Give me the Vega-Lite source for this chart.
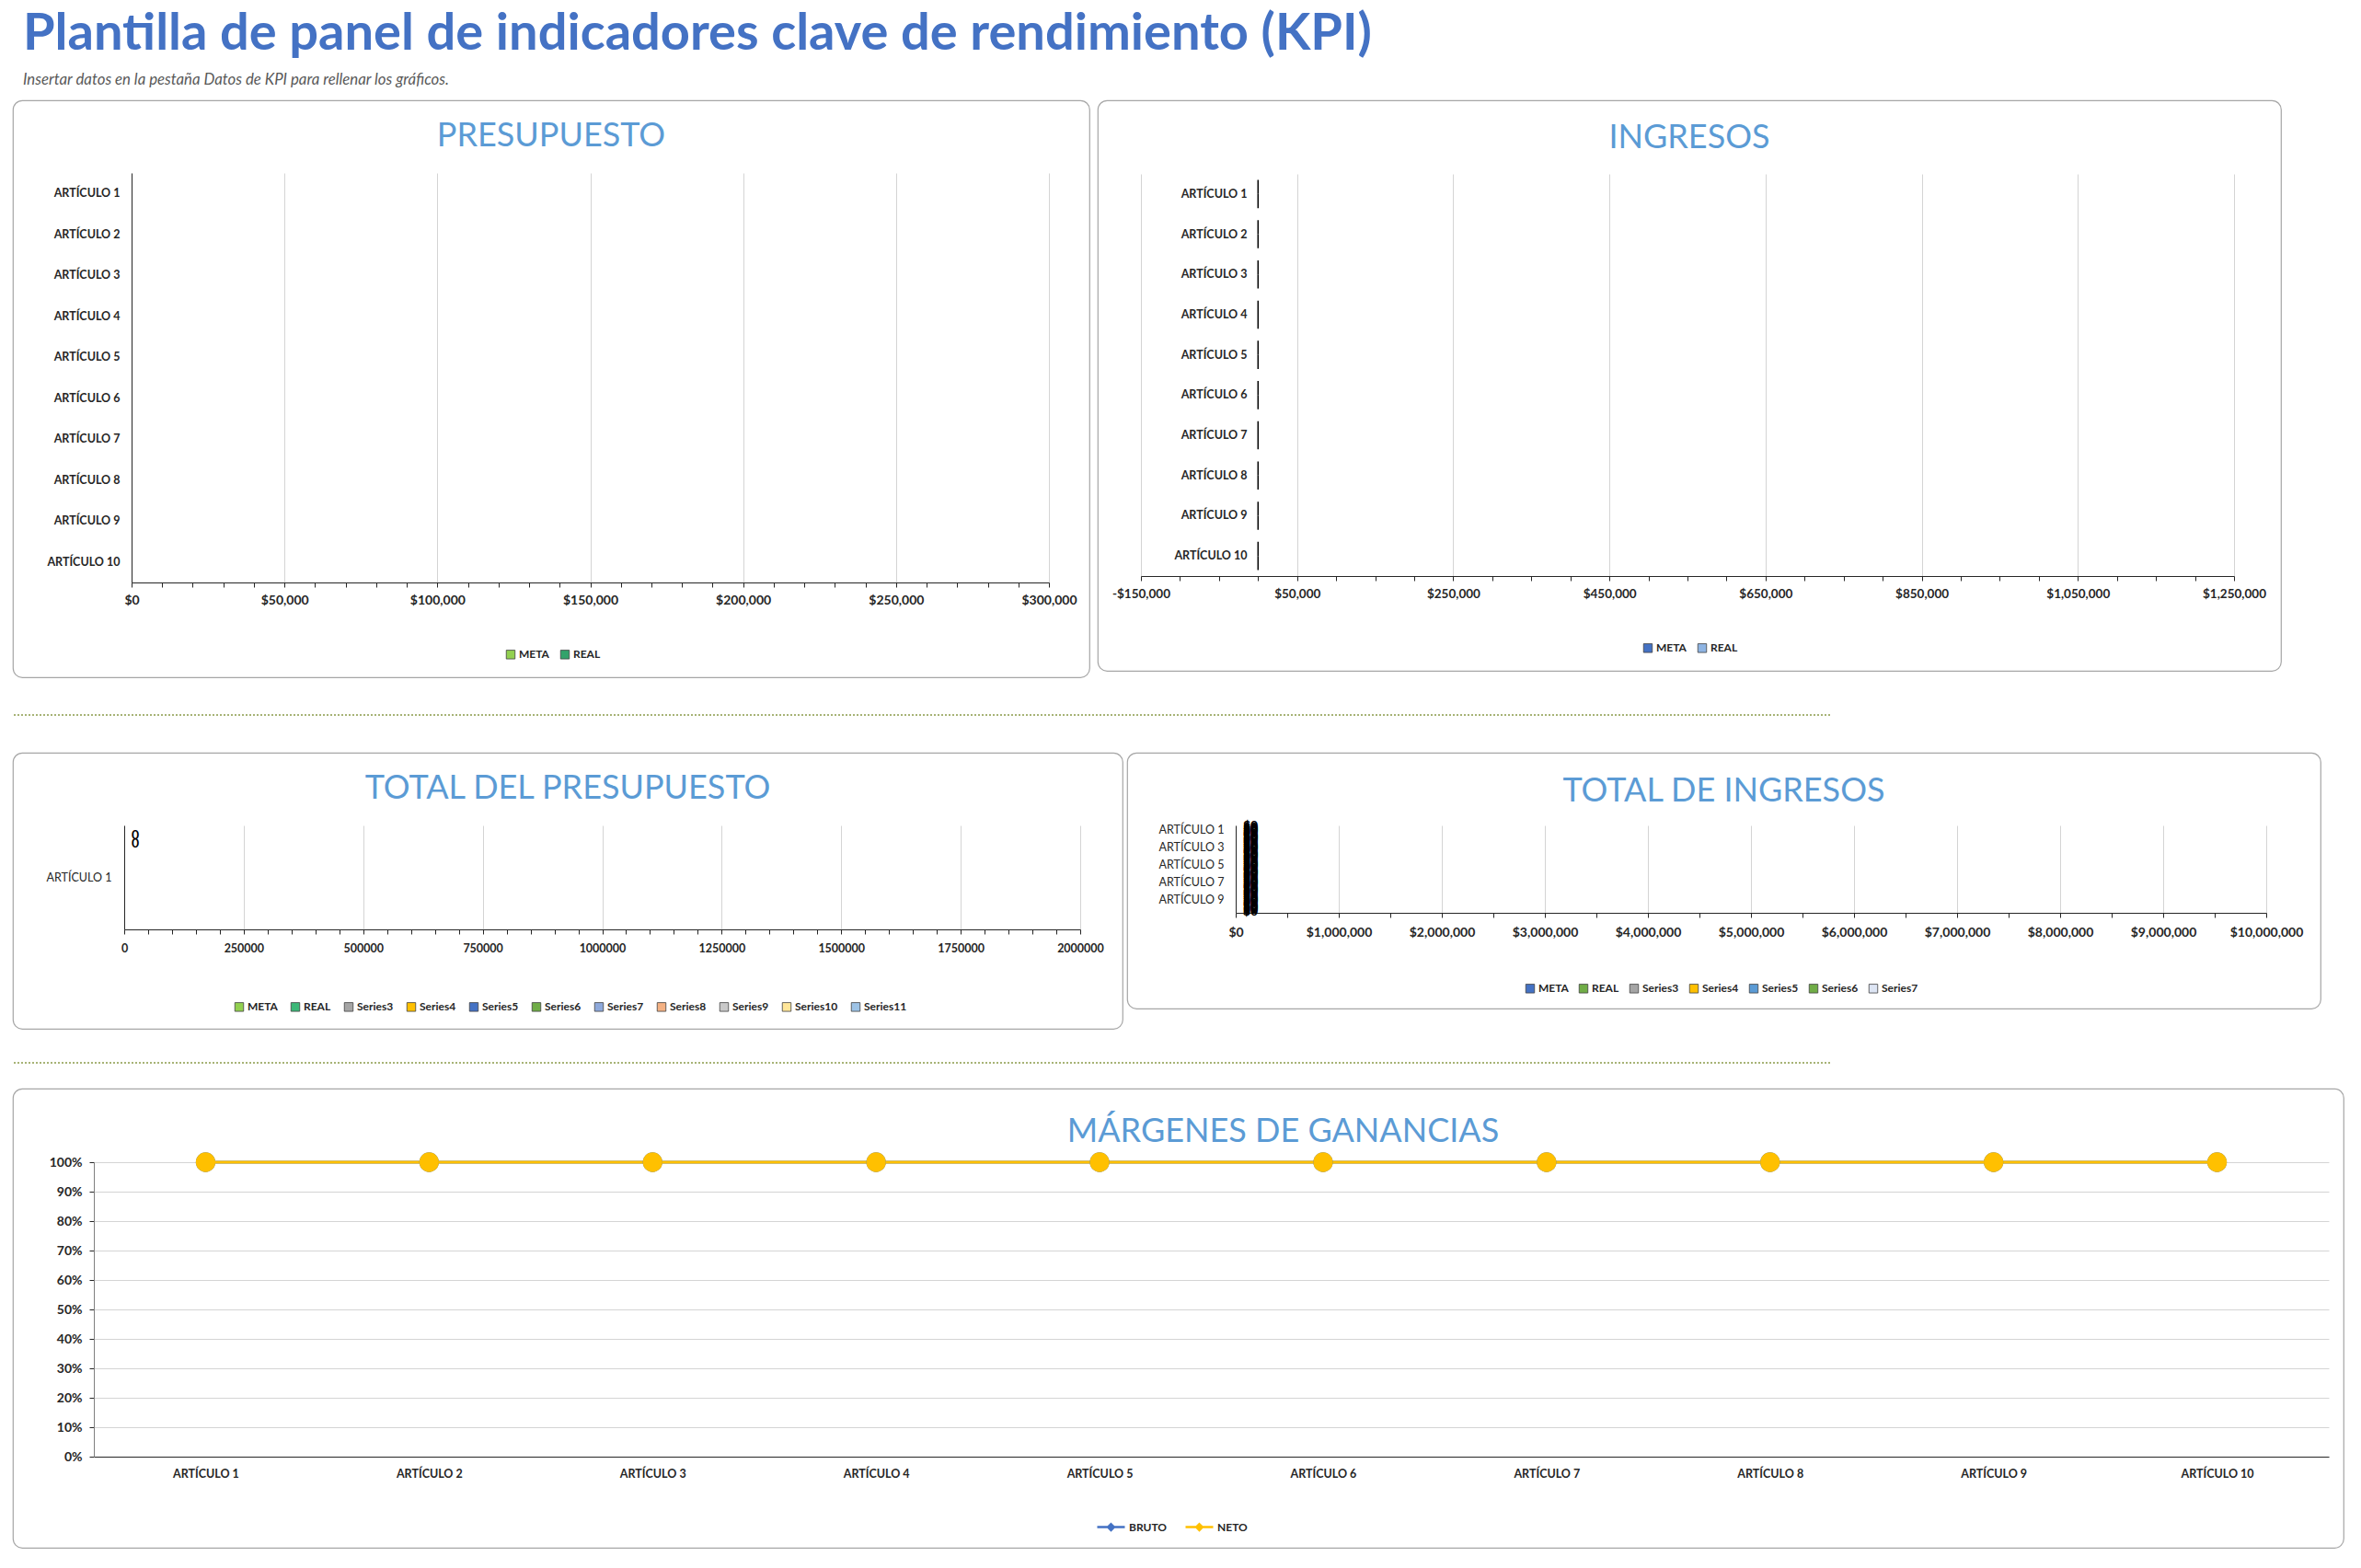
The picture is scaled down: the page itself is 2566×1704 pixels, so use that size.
{
  "$schema": "https://vega.github.io/schema/vega-lite/v6.json",
  "padding": {"left": 13, "top": 0, "right": 0, "bottom": 0},
  "autosize": {"type": "pad"},
  "background": "#ffffff",
  "spacing": 8,
  "resolve": {"scale": {"color": "independent", "yOffset": "independent"}},
  "config": {
    "view": {"stroke": null},
    "font": "Lato",
    "axis": {"labelFont": "Lato", "labelFontWeight": "bold", "labelFontSize": 12.5, "labelColor": "#262626", "domainColor": "#262626", "tickColor": "#262626", "gridColor": "#d4d4d4", "labelFlush": false, "labelOverlap": false},
    "legend": {"labelFont": "Lato", "labelFontWeight": "bold", "labelFontSize": 12, "labelColor": "#262626", "orient": "none", "direction": "horizontal", "symbolType": "square", "symbolSize": 90, "symbolStrokeColor": "#404040", "symbolStrokeWidth": 0.8, "columnPadding": 10, "labelOffset": 3},
    "title": {"font": "Lato", "fontSize": 36, "fontWeight": "normal", "color": "#5B9BD5", "anchor": "middle", "frame": "group", "baseline": "middle"}
  },
  "vconcat": [
    {
      "width": 2533,
      "height": 100,
      "title": {"text": "Plantilla de panel de indicadores clave de rendimiento (KPI)", "subtitle": "Insertar datos en la pestaña Datos de KPI para rellenar los gráficos.", "orient": "bottom", "anchor": "start", "frame": "group", "baseline": "top", "offset": -90, "dx": 11, "font": "Lato", "fontSize": 56, "fontWeight": "bold", "color": "#4472C4", "subtitleFont": "Lato", "subtitleFontSize": 16.8, "subtitleFontStyle": "italic", "subtitleColor": "#595959", "subtitlePadding": 13},
      "data": {"values": [{"v": 0}]},
      "mark": {"type": "rule", "opacity": 0},
      "encoding": {"y": {"field": "v", "type": "quantitative", "axis": null}}
    },
    {
      "spacing": 35,
      "resolve": {"scale": {"color": "independent", "yOffset": "independent"}},
      "vconcat": [
        {
          "spacing": 39,
          "resolve": {"scale": {"color": "independent", "yOffset": "independent"}},
          "vconcat": [
            {
              "spacing": 7,
              "resolve": {"scale": {"color": "independent", "yOffset": "independent"}},
              "hconcat": [
                {
                  "width": 1170,
                  "height": 627,
                  "view": {"stroke": "#a6a6a6", "strokeWidth": 1.2, "cornerRadius": 10, "fill": "#ffffff"},
                  "title": {"text": "PRESUPUESTO", "offset": -58},
                  "data": {"values": [
                    {"articulo": "ARTÍCULO 1", "serie": "META", "valor": 0}, {"articulo": "ARTÍCULO 1", "serie": "REAL", "valor": 0},
                    {"articulo": "ARTÍCULO 2", "serie": "META", "valor": 0}, {"articulo": "ARTÍCULO 2", "serie": "REAL", "valor": 0},
                    {"articulo": "ARTÍCULO 3", "serie": "META", "valor": 0}, {"articulo": "ARTÍCULO 3", "serie": "REAL", "valor": 0},
                    {"articulo": "ARTÍCULO 4", "serie": "META", "valor": 0}, {"articulo": "ARTÍCULO 4", "serie": "REAL", "valor": 0},
                    {"articulo": "ARTÍCULO 5", "serie": "META", "valor": 0}, {"articulo": "ARTÍCULO 5", "serie": "REAL", "valor": 0},
                    {"articulo": "ARTÍCULO 6", "serie": "META", "valor": 0}, {"articulo": "ARTÍCULO 6", "serie": "REAL", "valor": 0},
                    {"articulo": "ARTÍCULO 7", "serie": "META", "valor": 0}, {"articulo": "ARTÍCULO 7", "serie": "REAL", "valor": 0},
                    {"articulo": "ARTÍCULO 8", "serie": "META", "valor": 0}, {"articulo": "ARTÍCULO 8", "serie": "REAL", "valor": 0},
                    {"articulo": "ARTÍCULO 9", "serie": "META", "valor": 0}, {"articulo": "ARTÍCULO 9", "serie": "REAL", "valor": 0},
                    {"articulo": "ARTÍCULO 10", "serie": "META", "valor": 0}, {"articulo": "ARTÍCULO 10", "serie": "REAL", "valor": 0}
                  ]},
                  "resolve": {"axis": {"x": "independent"}},
                  "encoding": {
                    "y": {"field": "articulo", "type": "nominal", "sort": null, "title": null,
                      "scale": {"range": [79, 524], "paddingInner": 0.3, "paddingOuter": 0.15},
                      "axis": {"offset": -129, "ticks": false, "labelPadding": 13, "grid": false}},
                    "yOffset": {"field": "serie", "sort": ["META", "REAL"]}
                  },
                  "layer": [
                    {
                      "mark": {"type": "bar"},
                      "encoding": {
                        "x": {"field": "valor", "type": "quantitative", "title": null,
                          "scale": {"domain": [0, 300000], "range": [129, 1126], "nice": false},
                          "axis": {"orient": "bottom", "offset": -103, "values": [0,10000,20000,30000,40000,50000,60000,70000,80000,90000,100000,110000,120000,130000,140000,150000,160000,170000,180000,190000,200000,210000,220000,230000,240000,250000,260000,270000,280000,290000,300000],
                            "labelExpr": "datum.value % 50000 === 0 ? '$' + format(datum.value, ',') : ''",
                            "grid": false, "tickSize": 5, "labelPadding": 7, "labelFontSize": 14}},
                        "color": {"field": "serie", "type": "nominal", "scale": {"domain": ["META", "REAL"], "range": ["#92D050", "#33A36B"]},
                          "legend": {"title": null, "legendX": 535, "legendY": 596}}
                      }
                    },
                    {
                      "mark": {"type": "bar", "opacity": 0},
                      "encoding": {
                        "x": {"field": "valor", "type": "quantitative", "title": null,
                          "axis": {"orient": "top", "grid": true, "labels": false, "ticks": false, "domain": false, "values": [0,50000,100000,150000,200000,250000,300000]}}
                      }
                    }
                  ]
                },
                {
                  "width": 1286,
                  "height": 620,
                  "view": {"stroke": "#a6a6a6", "strokeWidth": 1.2, "cornerRadius": 10, "fill": "#ffffff"},
                  "title": {"text": "INGRESOS", "offset": -60},
                  "data": {"values": [
                    {"articulo": "ARTÍCULO 1", "serie": "META", "valor": 0}, {"articulo": "ARTÍCULO 1", "serie": "REAL", "valor": 0},
                    {"articulo": "ARTÍCULO 2", "serie": "META", "valor": 0}, {"articulo": "ARTÍCULO 2", "serie": "REAL", "valor": 0},
                    {"articulo": "ARTÍCULO 3", "serie": "META", "valor": 0}, {"articulo": "ARTÍCULO 3", "serie": "REAL", "valor": 0},
                    {"articulo": "ARTÍCULO 4", "serie": "META", "valor": 0}, {"articulo": "ARTÍCULO 4", "serie": "REAL", "valor": 0},
                    {"articulo": "ARTÍCULO 5", "serie": "META", "valor": 0}, {"articulo": "ARTÍCULO 5", "serie": "REAL", "valor": 0},
                    {"articulo": "ARTÍCULO 6", "serie": "META", "valor": 0}, {"articulo": "ARTÍCULO 6", "serie": "REAL", "valor": 0},
                    {"articulo": "ARTÍCULO 7", "serie": "META", "valor": 0}, {"articulo": "ARTÍCULO 7", "serie": "REAL", "valor": 0},
                    {"articulo": "ARTÍCULO 8", "serie": "META", "valor": 0}, {"articulo": "ARTÍCULO 8", "serie": "REAL", "valor": 0},
                    {"articulo": "ARTÍCULO 9", "serie": "META", "valor": 0}, {"articulo": "ARTÍCULO 9", "serie": "REAL", "valor": 0},
                    {"articulo": "ARTÍCULO 10", "serie": "META", "valor": 0}, {"articulo": "ARTÍCULO 10", "serie": "REAL", "valor": 0}
                  ]},
                  "resolve": {"axis": {"x": "independent"}},
                  "encoding": {
                    "y": {"field": "articulo", "type": "nominal", "sort": null, "title": null,
                      "scale": {"range": [80, 517], "paddingInner": 0.3, "paddingOuter": 0.15},
                      "axis": {"offset": -174, "ticks": false, "domain": false, "labelPadding": 12, "grid": false}},
                    "yOffset": {"field": "serie", "sort": ["META", "REAL"]}
                  },
                  "layer": [
                    {
                      "mark": {"type": "bar", "stroke": "#000000", "strokeWidth": 1.5},
                      "encoding": {
                        "x": {"field": "valor", "type": "quantitative", "title": null,
                          "scale": {"domain": [-150000, 1250000], "range": [47, 1235], "nice": false, "zero": false},
                          "axis": {"orient": "bottom", "offset": -103, "values": [-150000,-100000,-50000,0,50000,100000,150000,200000,250000,300000,350000,400000,450000,500000,550000,600000,650000,700000,750000,800000,850000,900000,950000,1000000,1050000,1100000,1150000,1200000,1250000],
                            "labelExpr": "(datum.value + 150000) % 200000 === 0 ? (datum.value < 0 ? '-$' : '$') + format(abs(datum.value), ',') : ''",
                            "grid": false, "tickSize": 5, "labelPadding": 7, "labelFontSize": 13.5}},
                        "color": {"field": "serie", "type": "nominal", "scale": {"domain": ["META", "REAL"], "range": ["#4472C4", "#8EB4E3"]},
                          "legend": {"title": null, "legendX": 592, "legendY": 589}}
                      }
                    },
                    {
                      "mark": {"type": "bar", "opacity": 0},
                      "encoding": {
                        "x": {"field": "valor", "type": "quantitative", "title": null,
                          "axis": {"orient": "top", "grid": true, "labels": false, "ticks": false, "domain": false, "values": [-150000,50000,250000,450000,650000,850000,1050000,1250000]}}
                      }
                    }
                  ]
                }
              ]
            },
            {
              "width": 1975,
              "height": 1,
              "data": {"values": [{"v": 0}]},
              "mark": {"type": "rule", "color": "#8A9A4A", "strokeWidth": 1.5, "strokeDash": [2, 2]},
              "encoding": {"y": {"field": "v", "type": "quantitative", "scale": {"domain": [0, 1]}, "axis": null}}
            },
            {
              "spacing": 3,
              "resolve": {"scale": {"color": "independent", "yOffset": "independent"}},
              "hconcat": [
                {
                  "width": 1206,
                  "height": 300,
                  "view": {"stroke": "#a6a6a6", "strokeWidth": 1.2, "cornerRadius": 10, "fill": "#ffffff"},
                  "title": {"text": "TOTAL DEL PRESUPUESTO", "offset": -58},
                  "data": {"values": [
                    {"articulo": "ARTÍCULO 1", "serie": "META", "valor": 0},
                    {"articulo": "ARTÍCULO 1", "serie": "REAL", "valor": 0},
                    {"articulo": "ARTÍCULO 1", "serie": "Series3", "valor": 0},
                    {"articulo": "ARTÍCULO 1", "serie": "Series4", "valor": 0},
                    {"articulo": "ARTÍCULO 1", "serie": "Series5", "valor": 0},
                    {"articulo": "ARTÍCULO 1", "serie": "Series6", "valor": 0},
                    {"articulo": "ARTÍCULO 1", "serie": "Series7", "valor": 0},
                    {"articulo": "ARTÍCULO 1", "serie": "Series8", "valor": 0},
                    {"articulo": "ARTÍCULO 1", "serie": "Series9", "valor": 0},
                    {"articulo": "ARTÍCULO 1", "serie": "Series10", "valor": 0},
                    {"articulo": "ARTÍCULO 1", "serie": "Series11", "valor": 0}
                  ]},
                  "resolve": {"axis": {"x": "independent"}},
                  "encoding": {
                    "y": {"field": "articulo", "type": "nominal", "sort": null, "title": null,
                      "scale": {"range": [79, 192], "paddingInner": 0, "paddingOuter": 0},
                      "axis": {"offset": -121, "ticks": false, "labelPadding": 14, "labelFontWeight": "normal", "grid": false}},
                    "yOffset": {"field": "serie", "sort": ["META", "REAL", "Series3", "Series4", "Series5", "Series6", "Series7", "Series8", "Series9", "Series10", "Series11"], "scale": {"paddingInner": 0, "paddingOuter": 0.75}}
                  },
                  "layer": [
                    {
                      "mark": {"type": "bar"},
                      "encoding": {
                        "x": {"field": "valor", "type": "quantitative", "title": null,
                          "scale": {"domain": [0, 2000000], "range": [121, 1160], "nice": false},
                          "axis": {"orient": "bottom", "offset": -108, "values": [0,50000,100000,150000,200000,250000,300000,350000,400000,450000,500000,550000,600000,650000,700000,750000,800000,850000,900000,950000,1000000,1050000,1100000,1150000,1200000,1250000,1300000,1350000,1400000,1450000,1500000,1550000,1600000,1650000,1700000,1750000,1800000,1850000,1900000,1950000,2000000],
                            "labelExpr": "datum.value % 250000 === 0 ? format(datum.value, 'd') : ''",
                            "grid": false, "tickSize": 5, "labelPadding": 9}},
                        "color": {"field": "serie", "type": "nominal",
                          "scale": {"domain": ["META", "REAL", "Series3", "Series4", "Series5", "Series6", "Series7", "Series8", "Series9", "Series10", "Series11"],
                            "range": ["#92D050", "#3CB878", "#A5A5A5", "#FFC000", "#4472C4", "#70AD47", "#8EA9DB", "#F4B183", "#C9C9C9", "#FFE699", "#9DC3E6"]},
                          "legend": {"title": null, "legendX": 240, "legendY": 270, "columnPadding": 12}}
                      }
                    },
                    {
                      "transform": [{"filter": "datum.serie === 'META' || datum.serie === 'REAL'"}],
                      "mark": {"type": "text", "align": "left", "baseline": "middle", "dx": 8, "fontSize": 14, "fontWeight": "bold", "color": "#000000"},
                      "encoding": {
                        "x": {"field": "valor", "type": "quantitative", "axis": null},
                        "text": {"field": "valor", "type": "quantitative", "format": "d"}
                      }
                    },
                    {
                      "mark": {"type": "bar", "opacity": 0},
                      "encoding": {
                        "x": {"field": "valor", "type": "quantitative", "title": null,
                          "axis": {"orient": "top", "grid": true, "labels": false, "ticks": false, "domain": false, "values": [0,250000,500000,750000,1000000,1250000,1500000,1750000,2000000]}}
                      }
                    }
                  ]
                },
                {
                  "width": 1297,
                  "height": 278,
                  "view": {"stroke": "#a6a6a6", "strokeWidth": 1.2, "cornerRadius": 10, "fill": "#ffffff"},
                  "title": {"text": "TOTAL DE INGRESOS", "offset": -61},
                  "data": {"values": [
                    {"articulo": "ARTÍCULO 1", "serie": "META", "valor": 0}, {"articulo": "ARTÍCULO 1", "serie": "REAL", "valor": 0}, {"articulo": "ARTÍCULO 1", "serie": "Series3", "valor": 0}, {"articulo": "ARTÍCULO 1", "serie": "Series4", "valor": 0}, {"articulo": "ARTÍCULO 1", "serie": "Series5", "valor": 0}, {"articulo": "ARTÍCULO 1", "serie": "Series6", "valor": 0}, {"articulo": "ARTÍCULO 1", "serie": "Series7", "valor": 0},
                    {"articulo": "ARTÍCULO 2", "serie": "META", "valor": 0}, {"articulo": "ARTÍCULO 2", "serie": "REAL", "valor": 0}, {"articulo": "ARTÍCULO 2", "serie": "Series3", "valor": 0}, {"articulo": "ARTÍCULO 2", "serie": "Series4", "valor": 0}, {"articulo": "ARTÍCULO 2", "serie": "Series5", "valor": 0}, {"articulo": "ARTÍCULO 2", "serie": "Series6", "valor": 0}, {"articulo": "ARTÍCULO 2", "serie": "Series7", "valor": 0},
                    {"articulo": "ARTÍCULO 3", "serie": "META", "valor": 0}, {"articulo": "ARTÍCULO 3", "serie": "REAL", "valor": 0}, {"articulo": "ARTÍCULO 3", "serie": "Series3", "valor": 0}, {"articulo": "ARTÍCULO 3", "serie": "Series4", "valor": 0}, {"articulo": "ARTÍCULO 3", "serie": "Series5", "valor": 0}, {"articulo": "ARTÍCULO 3", "serie": "Series6", "valor": 0}, {"articulo": "ARTÍCULO 3", "serie": "Series7", "valor": 0},
                    {"articulo": "ARTÍCULO 4", "serie": "META", "valor": 0}, {"articulo": "ARTÍCULO 4", "serie": "REAL", "valor": 0}, {"articulo": "ARTÍCULO 4", "serie": "Series3", "valor": 0}, {"articulo": "ARTÍCULO 4", "serie": "Series4", "valor": 0}, {"articulo": "ARTÍCULO 4", "serie": "Series5", "valor": 0}, {"articulo": "ARTÍCULO 4", "serie": "Series6", "valor": 0}, {"articulo": "ARTÍCULO 4", "serie": "Series7", "valor": 0},
                    {"articulo": "ARTÍCULO 5", "serie": "META", "valor": 0}, {"articulo": "ARTÍCULO 5", "serie": "REAL", "valor": 0}, {"articulo": "ARTÍCULO 5", "serie": "Series3", "valor": 0}, {"articulo": "ARTÍCULO 5", "serie": "Series4", "valor": 0}, {"articulo": "ARTÍCULO 5", "serie": "Series5", "valor": 0}, {"articulo": "ARTÍCULO 5", "serie": "Series6", "valor": 0}, {"articulo": "ARTÍCULO 5", "serie": "Series7", "valor": 0},
                    {"articulo": "ARTÍCULO 6", "serie": "META", "valor": 0}, {"articulo": "ARTÍCULO 6", "serie": "REAL", "valor": 0}, {"articulo": "ARTÍCULO 6", "serie": "Series3", "valor": 0}, {"articulo": "ARTÍCULO 6", "serie": "Series4", "valor": 0}, {"articulo": "ARTÍCULO 6", "serie": "Series5", "valor": 0}, {"articulo": "ARTÍCULO 6", "serie": "Series6", "valor": 0}, {"articulo": "ARTÍCULO 6", "serie": "Series7", "valor": 0},
                    {"articulo": "ARTÍCULO 7", "serie": "META", "valor": 0}, {"articulo": "ARTÍCULO 7", "serie": "REAL", "valor": 0}, {"articulo": "ARTÍCULO 7", "serie": "Series3", "valor": 0}, {"articulo": "ARTÍCULO 7", "serie": "Series4", "valor": 0}, {"articulo": "ARTÍCULO 7", "serie": "Series5", "valor": 0}, {"articulo": "ARTÍCULO 7", "serie": "Series6", "valor": 0}, {"articulo": "ARTÍCULO 7", "serie": "Series7", "valor": 0},
                    {"articulo": "ARTÍCULO 8", "serie": "META", "valor": 0}, {"articulo": "ARTÍCULO 8", "serie": "REAL", "valor": 0}, {"articulo": "ARTÍCULO 8", "serie": "Series3", "valor": 0}, {"articulo": "ARTÍCULO 8", "serie": "Series4", "valor": 0}, {"articulo": "ARTÍCULO 8", "serie": "Series5", "valor": 0}, {"articulo": "ARTÍCULO 8", "serie": "Series6", "valor": 0}, {"articulo": "ARTÍCULO 8", "serie": "Series7", "valor": 0},
                    {"articulo": "ARTÍCULO 9", "serie": "META", "valor": 0}, {"articulo": "ARTÍCULO 9", "serie": "REAL", "valor": 0}, {"articulo": "ARTÍCULO 9", "serie": "Series3", "valor": 0}, {"articulo": "ARTÍCULO 9", "serie": "Series4", "valor": 0}, {"articulo": "ARTÍCULO 9", "serie": "Series5", "valor": 0}, {"articulo": "ARTÍCULO 9", "serie": "Series6", "valor": 0}, {"articulo": "ARTÍCULO 9", "serie": "Series7", "valor": 0},
                    {"articulo": "ARTÍCULO 10", "serie": "META", "valor": 0}, {"articulo": "ARTÍCULO 10", "serie": "REAL", "valor": 0}, {"articulo": "ARTÍCULO 10", "serie": "Series3", "valor": 0}, {"articulo": "ARTÍCULO 10", "serie": "Series4", "valor": 0}, {"articulo": "ARTÍCULO 10", "serie": "Series5", "valor": 0}, {"articulo": "ARTÍCULO 10", "serie": "Series6", "valor": 0}, {"articulo": "ARTÍCULO 10", "serie": "Series7", "valor": 0}
                  ]},
                  "resolve": {"axis": {"x": "independent"}},
                  "encoding": {
                    "y": {"field": "articulo", "type": "nominal", "sort": null, "title": null,
                      "scale": {"range": [79, 174], "paddingInner": 0, "paddingOuter": 0},
                      "axis": {"offset": -118, "ticks": false, "labelPadding": 13, "labelFontWeight": "normal", "grid": false,
                        "values": ["ARTÍCULO 1", "ARTÍCULO 3", "ARTÍCULO 5", "ARTÍCULO 7", "ARTÍCULO 9"]}},
                    "yOffset": {"field": "serie", "sort": ["META", "REAL", "Series3", "Series4", "Series5", "Series6", "Series7"], "scale": {"paddingInner": 0, "paddingOuter": 0.75}}
                  },
                  "layer": [
                    {
                      "mark": {"type": "bar"},
                      "encoding": {
                        "x": {"field": "valor", "type": "quantitative", "title": null,
                          "scale": {"domain": [0, 10000000], "range": [118, 1238], "nice": false},
                          "axis": {"orient": "bottom", "offset": -104, "values": [0,500000,1000000,1500000,2000000,2500000,3000000,3500000,4000000,4500000,5000000,5500000,6000000,6500000,7000000,7500000,8000000,8500000,9000000,9500000,10000000],
                            "labelExpr": "datum.value % 1000000 === 0 ? '$' + format(datum.value, ',') : ''",
                            "grid": false, "tickSize": 5, "labelPadding": 9, "labelFontSize": 14}},
                        "color": {"field": "serie", "type": "nominal",
                          "scale": {"domain": ["META", "REAL", "Series3", "Series4", "Series5", "Series6", "Series7"],
                            "range": ["#4472C4", "#70AD47", "#A5A5A5", "#FFC000", "#5B9BD5", "#70AD47", "#DDE5F4"]},
                          "legend": {"title": null, "legendX": 432, "legendY": 250, "columnPadding": 9}}
                      }
                    },
                    {
                      "mark": {"type": "text", "align": "left", "baseline": "middle", "dx": 8, "fontSize": 14, "fontWeight": "bold", "color": "#000000"},
                      "encoding": {
                        "x": {"field": "valor", "type": "quantitative", "axis": null},
                        "text": {"field": "valor", "type": "quantitative", "format": "$,.0f"}
                      }
                    },
                    {
                      "mark": {"type": "bar", "opacity": 0},
                      "encoding": {
                        "x": {"field": "valor", "type": "quantitative", "title": null,
                          "axis": {"orient": "top", "grid": true, "labels": false, "ticks": false, "domain": false, "values": [0,1000000,2000000,3000000,4000000,5000000,6000000,7000000,8000000,9000000,10000000]}}
                      }
                    }
                  ]
                }
              ]
            }
          ]
        },
        {
          "spacing": 26,
          "resolve": {"scale": {"color": "independent", "yOffset": "independent"}},
          "vconcat": [
            {
              "width": 1975,
              "height": 1,
              "data": {"values": [{"v": 0}]},
              "mark": {"type": "rule", "color": "#8A9A4A", "strokeWidth": 1.5, "strokeDash": [2, 2]},
              "encoding": {"y": {"field": "v", "type": "quantitative", "scale": {"domain": [0, 1]}, "axis": null}}
            },
            {
              "width": 2533,
              "height": 499,
              "view": {"stroke": "#a6a6a6", "strokeWidth": 1.2, "cornerRadius": 10, "fill": "#ffffff"},
              "title": {"text": "MÁRGENES DE GANANCIAS", "offset": -66, "dx": 114},
              "data": {"values": [
                {"articulo": "ARTÍCULO 1", "serie": "BRUTO", "valor": 1}, {"articulo": "ARTÍCULO 2", "serie": "BRUTO", "valor": 1},
                {"articulo": "ARTÍCULO 3", "serie": "BRUTO", "valor": 1}, {"articulo": "ARTÍCULO 4", "serie": "BRUTO", "valor": 1},
                {"articulo": "ARTÍCULO 5", "serie": "BRUTO", "valor": 1}, {"articulo": "ARTÍCULO 6", "serie": "BRUTO", "valor": 1},
                {"articulo": "ARTÍCULO 7", "serie": "BRUTO", "valor": 1}, {"articulo": "ARTÍCULO 8", "serie": "BRUTO", "valor": 1},
                {"articulo": "ARTÍCULO 9", "serie": "BRUTO", "valor": 1}, {"articulo": "ARTÍCULO 10", "serie": "BRUTO", "valor": 1},
                {"articulo": "ARTÍCULO 1", "serie": "NETO", "valor": 1}, {"articulo": "ARTÍCULO 2", "serie": "NETO", "valor": 1},
                {"articulo": "ARTÍCULO 3", "serie": "NETO", "valor": 1}, {"articulo": "ARTÍCULO 4", "serie": "NETO", "valor": 1},
                {"articulo": "ARTÍCULO 5", "serie": "NETO", "valor": 1}, {"articulo": "ARTÍCULO 6", "serie": "NETO", "valor": 1},
                {"articulo": "ARTÍCULO 7", "serie": "NETO", "valor": 1}, {"articulo": "ARTÍCULO 8", "serie": "NETO", "valor": 1},
                {"articulo": "ARTÍCULO 9", "serie": "NETO", "valor": 1}, {"articulo": "ARTÍCULO 10", "serie": "NETO", "valor": 1}
              ]},
              "mark": {"type": "line", "strokeWidth": 3, "point": {"filled": true, "size": 452}},
              "encoding": {
                "x": {"field": "articulo", "type": "nominal", "sort": null, "title": null,
                  "scale": {"type": "point", "range": [88, 2517], "padding": 0.5},
                  "axis": {"offset": -99, "ticks": false, "labelPadding": 12, "labelAngle": 0, "grid": false}},
                "y": {"field": "valor", "type": "quantitative", "title": null,
                  "scale": {"domain": [0, 1], "range": [400, 80], "nice": false},
                  "axis": {"offset": -88, "format": "%", "values": [0, 0.1, 0.2, 0.3, 0.4, 0.5, 0.6, 0.7, 0.8, 0.9, 1], "grid": true, "tickSize": 5, "labelPadding": 8, "labelFontSize": 14, "domainColor": "#7f7f7f"}},
                "color": {"field": "serie", "type": "nominal", "sort": ["BRUTO", "NETO"],
                  "scale": {"domain": ["BRUTO", "NETO"], "range": ["#4472C4", "#FFC000"]},
                  "legend": {"title": null, "legendX": 1177, "legendY": 460, "symbolType": "M-1,0L1,0M0,-0.22L0.22,0L0,0.22L-0.22,0Z", "symbolSize": 900, "symbolStrokeWidth": 2.5, "columnPadding": 14}}
              }
            }
          ]
        }
      ]
    }
  ]
}
